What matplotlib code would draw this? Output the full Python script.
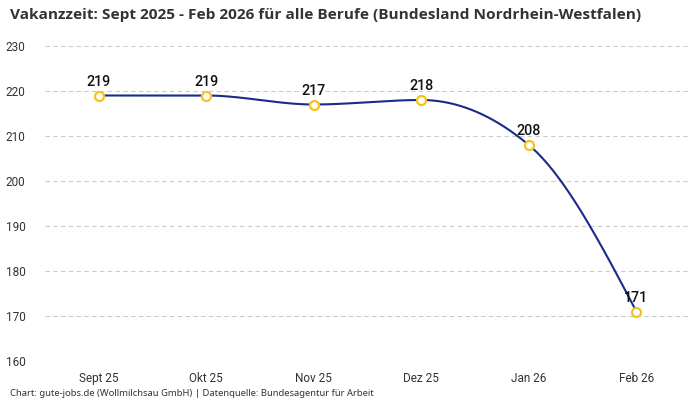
import numpy as np
import matplotlib
matplotlib.use("Agg")
import matplotlib.pyplot as plt

categories = ["Sept 25", "Okt 25", "Nov 25", "Dez 25", "Jan 26", "Feb 26"]
values = [219, 219, 217, 218, 208, 171]
yticks = [160, 170, 180, 190, 200, 210, 220, 230]

title = "Vakanzzeit: Sept 2025 - Feb 2026 für alle Berufe (Bundesland Nordrhein-Westfalen)"
footer = "Chart: gute-jobs.de (Wollmilchsau GmbH) | Datenquelle: Bundesagentur für Arbeit"

plt.rcParams['font.family'] = ['Roboto', 'DejaVu Sans']

LINE = "#1b2a8a"
MARK = "#f7c21b"
TXT = "#333333"


def monotone_x(x, y, n=40):
    x = np.asarray(x, float)
    y = np.asarray(y, float)
    h = np.diff(x)
    s = np.diff(y) / h
    m = np.zeros_like(y)
    for i in range(1, len(y) - 1):
        s0, s1 = s[i - 1], s[i]
        p = (s0 * h[i] + s1 * h[i - 1]) / (h[i - 1] + h[i])
        m[i] = (np.sign(s0) + np.sign(s1)) * min(abs(s0), abs(s1), 0.5 * abs(p))
    m[0] = (3 * s[0] - m[1]) / 2
    m[-1] = (3 * s[-1] - m[-2]) / 2
    xs, ys = [], []
    for i in range(len(x) - 1):
        t = np.linspace(0, 1, n)
        h00 = 2 * t**3 - 3 * t**2 + 1
        h10 = t**3 - 2 * t**2 + t
        h01 = -2 * t**3 + 3 * t**2
        h11 = t**3 - t**2
        xs.append(x[i] + t * h[i])
        ys.append(h00 * y[i] + h10 * h[i] * m[i] + h01 * y[i + 1] + h11 * h[i] * m[i + 1])
    return np.concatenate(xs), np.concatenate(ys)


fig = plt.figure(figsize=(7, 4), dpi=100)
ax = fig.add_axes([0.064, 0.0975, 0.922, 0.7875])

xpos = np.arange(len(categories))
cx, cy = monotone_x(xpos, values)
ax.plot(cx, cy, color=LINE, lw=1.5, zorder=2, solid_capstyle='round')
ax.plot(xpos, values, linestyle='none', marker='o', markersize=6.5,
        markerfacecolor='white', markeredgecolor=MARK, markeredgewidth=1.6, zorder=3)

for xi, v in zip(xpos, values):
    ax.annotate(str(v), (xi, v), xytext=(0, 5), textcoords='offset points',
                ha='center', va='bottom', fontsize=10.3, fontweight='medium',
                color='#111111')

ax.set_xlim(-0.5, 5.5)
ax.set_ylim(160, 230)
ax.set_xticks(xpos)
ax.set_xticklabels(categories)
ax.set_yticks(yticks)
ax.tick_params(axis='both', length=0, labelsize=8.5, labelcolor=TXT)
ax.tick_params(axis='x', pad=8)
ax.tick_params(axis='y', pad=14)
ax.grid(axis='y', color='#cccccc', linestyle=(0, (4, 3)), linewidth=0.8)
ax.set_axisbelow(True)
for sp in ax.spines.values():
    sp.set_visible(False)

fig.text(0.014, 0.98, title, ha='left', va='top', fontsize=11.1,
         fontweight='bold', color=TXT, family=['Open Sans', 'Roboto', 'DejaVu Sans'])
fig.text(0.014, 0.017, footer, ha='left', va='center', fontsize=6.8, color=TXT,
         family=['Noto Sans', 'DejaVu Sans'])

fig.savefig("out.png", dpi=100, facecolor='white')
